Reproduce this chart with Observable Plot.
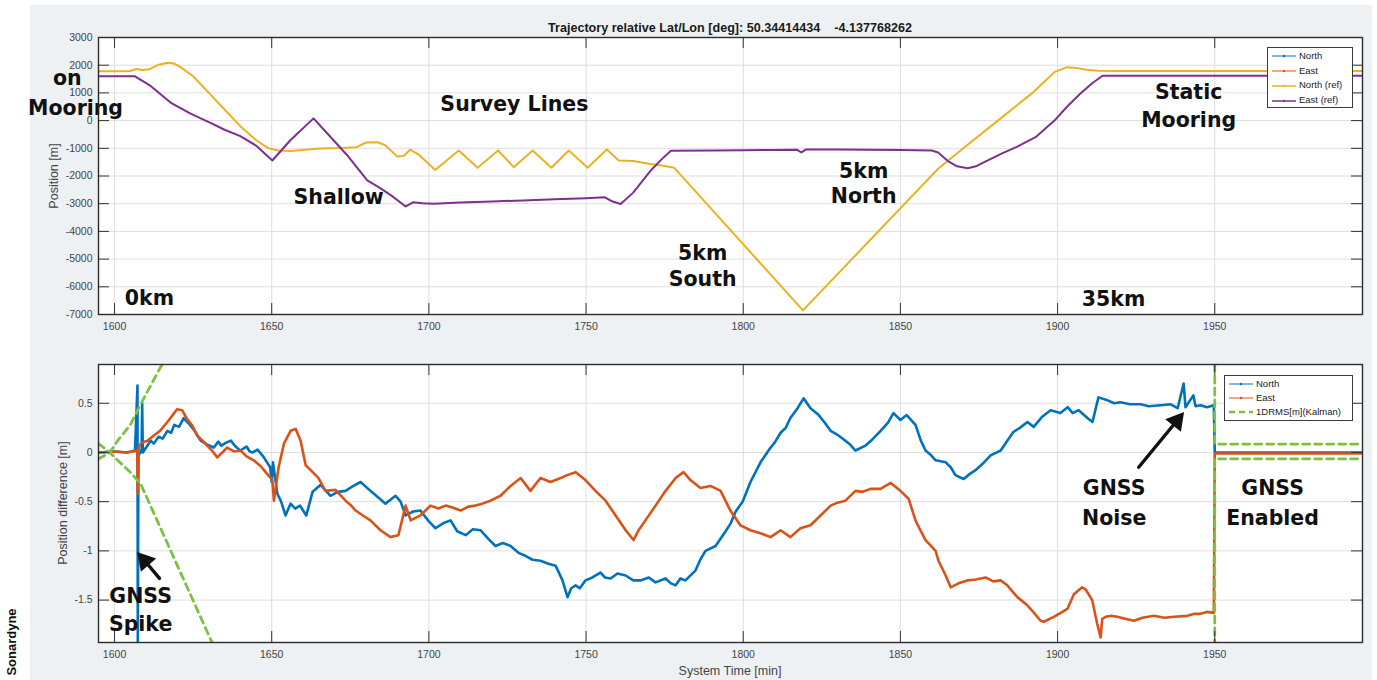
<!DOCTYPE html>
<html><head><meta charset="utf-8">
<script src="https://cdn.jsdelivr.net/npm/d3@7"></script>
<script src="https://cdn.jsdelivr.net/npm/@observablehq/plot@0.6"></script>
<style>
body{margin:0;background:#fff;}
#fig{position:relative;width:1377px;height:680px;overflow:hidden;background:#fff;font-family:"Liberation Sans",Arial,sans-serif;}
#bg{position:absolute;left:30px;top:5px;width:1342px;height:675px;background:#eef1f4;}
.abs{position:absolute;}
.rot{position:absolute;transform:translate(-50%,-50%) rotate(-90deg);white-space:nowrap;}
.legend{position:absolute;background:#fff;border:1px solid #3a3a3a;font-size:9.5px;color:#222;}
.legend .row{position:absolute;left:3px;height:14px;line-height:14px;white-space:nowrap;}
.legend svg{vertical-align:middle;margin-right:2px;}
</style>
</head><body>
<div id="fig"><div id="bg"></div></div>
<script>
// ---------- data ----------
const xTicks = [1600,1650,1700,1750,1800,1850,1900,1950];
const upperYTicks = [-7000,-6000,-5000,-4000,-3000,-2000,-1000,0,1000,2000,3000];
const lowerYTicks = [-1.5,-1,-0.5,0,0.5];

// upper panel: trajectory [time(min), position(m)]
const northRef = [[1594.9,1780],[1600,1780],[1605,1790],[1607,1860],[1609,1830],[1611,1850],[1614,2020],[1617,2090],[1619,2060],[1621,1930],[1625,1600],[1630,1000],[1635,400],[1640,-200],[1645,-700],[1649,-1000],[1652,-1080],[1656,-1100],[1660,-1060],[1664,-1020],[1668,-1000],[1672,-990],[1677,-960],[1680,-790],[1683.7,-780],[1686,-880],[1690,-1300],[1692,-1280],[1694,-1050],[1697,-1250],[1702,-1780],[1709.5,-1080],[1715.5,-1700],[1722,-1080],[1727,-1680],[1733,-1080],[1739,-1700],[1744.5,-1080],[1750.5,-1700],[1756.6,-1040],[1760.4,-1440],[1765,-1460],[1770,-1560],[1775,-1640],[1778,-1700],[1819,-6850],[1862,-1740],[1870,-1000],[1881,0],[1892,1000],[1899,1750],[1903,1930],[1906,1900],[1909,1840],[1913,1800],[1920,1790],[1997,1790]];
const eastRef = [[1594.9,1600],[1606.5,1600],[1611.5,1250],[1617.8,650],[1624.2,250],[1630.5,-80],[1635,-330],[1640,-560],[1645,-900],[1650.2,-1440],[1656,-700],[1663.3,80],[1668,-500],[1674,-1250],[1680.4,-2160],[1684,-2400],[1688,-2700],[1692.6,-3100],[1695,-2950],[1698,-2980],[1701.5,-3000],[1710,-2960],[1720,-2920],[1730,-2880],[1740,-2840],[1750,-2800],[1756,-2770],[1758,-2900],[1761,-3010],[1765,-2600],[1770.6,-1800],[1774,-1400],[1777,-1090],[1790,-1080],[1800,-1070],[1810,-1060],[1817,-1050],[1818.5,-1150],[1820,-1040],[1830,-1040],[1840,-1050],[1850,-1060],[1860,-1080],[1862,-1150],[1865,-1450],[1868,-1650],[1871.4,-1720],[1874,-1650],[1877,-1480],[1882,-1200],[1887,-950],[1893,-600],[1899,0],[1903,500],[1907,950],[1911,1350],[1914.3,1620],[1920,1620],[1997,1620]];

// lower panel: position difference [time(min), m]
const northDiff = [[1594.9,0],[1600,0.01],[1604,0],[1606.5,0.02],[1607.3,0.68],[1607.4,-2.0],[1607.6,-0.03],[1608.6,0.02],[1608.8,0.5],[1609,0],[1611.5,0.12],[1612.5,0.09],[1614,0.16],[1615.3,0.14],[1616.8,0.22],[1618,0.2],[1619,0.28],[1620.5,0.26],[1622,0.35],[1624,0.28],[1625.5,0.22],[1627.4,0.12],[1629.5,0.08],[1631.6,0.05],[1633,0.11],[1634,0.07],[1635.5,0.1],[1637,0.12],[1638.5,0.06],[1640,0.02],[1642,0.06],[1643,0.01],[1644,0],[1645.5,0.03],[1647.5,-0.05],[1649.5,-0.15],[1650,-0.3],[1650.4,-0.1],[1651.8,-0.42],[1653,-0.5],[1654.4,-0.64],[1656,-0.52],[1657.5,-0.57],[1659,-0.54],[1661,-0.64],[1663,-0.4],[1665.5,-0.33],[1667,-0.38],[1668.7,-0.44],[1671,-0.4],[1673.5,-0.39],[1676,-0.34],[1678.3,-0.3],[1681.4,-0.39],[1684,-0.46],[1686.2,-0.52],[1689.4,-0.44],[1691,-0.5],[1692.6,-0.64],[1695,-0.6],[1697.3,-0.59],[1700,-0.7],[1702.1,-0.77],[1704.5,-0.72],[1706.9,-0.69],[1709,-0.8],[1711.7,-0.84],[1714,-0.78],[1716.4,-0.79],[1719,-0.88],[1721.2,-0.95],[1723.5,-0.92],[1726,-0.95],[1728.5,-1.02],[1730.7,-1.05],[1733,-1.09],[1735.5,-1.1],[1738,-1.13],[1740.3,-1.15],[1742.5,-1.3],[1744.1,-1.47],[1745.3,-1.38],[1746.7,-1.35],[1748,-1.38],[1749.8,-1.3],[1752,-1.27],[1754.6,-1.22],[1756,-1.27],[1757.8,-1.28],[1760,-1.23],[1762.6,-1.25],[1765,-1.3],[1767.3,-1.3],[1770,-1.27],[1772.1,-1.32],[1775.3,-1.28],[1777,-1.33],[1778.5,-1.35],[1780,-1.28],[1781.6,-1.3],[1784.8,-1.2],[1786.5,-1.08],[1788,-1.0],[1791.2,-0.95],[1794.4,-0.8],[1796,-0.72],[1797.6,-0.6],[1799.8,-0.5],[1802.3,-0.3],[1805.5,-0.1],[1808.7,0.05],[1810,0.1],[1811.9,0.2],[1813.5,0.25],[1815,0.35],[1817.3,0.45],[1819.2,0.55],[1821.4,0.45],[1824,0.38],[1826,0.3],[1827.8,0.22],[1830,0.18],[1832.5,0.12],[1834,0.08],[1835.7,0.02],[1838.9,0.07],[1841,0.13],[1843.7,0.22],[1846,0.3],[1847.8,0.4],[1850,0.33],[1852,0.38],[1854.8,0.28],[1856.5,0.12],[1858,0.02],[1859.5,-0.02],[1861.2,-0.08],[1864.4,-0.1],[1866,-0.15],[1867.5,-0.23],[1870.1,-0.27],[1872,-0.22],[1873.9,-0.18],[1876,-0.12],[1878.7,-0.03],[1881.9,0.02],[1884,0.12],[1886,0.21],[1888,0.25],[1890.4,0.31],[1892.4,0.26],[1895,0.36],[1897.8,0.43],[1900.9,0.4],[1903.2,0.46],[1904.8,0.4],[1906.7,0.43],[1909.5,0.35],[1911.1,0.31],[1913,0.56],[1915.9,0.53],[1918,0.5],[1920,0.51],[1923,0.49],[1926.4,0.49],[1929,0.47],[1932.8,0.48],[1936,0.49],[1938.2,0.45],[1940.1,0.7],[1940.7,0.46],[1943.2,0.58],[1943.9,0.47],[1945.5,0.48],[1947.5,0.46],[1949.7,0.48],[1950,0],[1997,0]];
const eastDiff = [[1594.9,0],[1600,0.01],[1604,0],[1607.2,0.02],[1607.4,-0.42],[1607.7,0.06],[1608.6,0.1],[1610.5,0.12],[1612.4,0.17],[1614.5,0.22],[1616.8,0.31],[1618.5,0.38],[1619.9,0.44],[1621.5,0.43],[1623.1,0.34],[1624.8,0.27],[1626.3,0.17],[1628,0.12],[1629.5,0.07],[1631,0.02],[1632.7,-0.05],[1634.3,0.0],[1635.8,0.05],[1638,0.01],[1640.1,0.02],[1642,-0.04],[1644.3,-0.08],[1646.5,-0.14],[1648.6,-0.22],[1650.2,-0.28],[1650.7,-0.49],[1652.2,-0.15],[1653.9,0.09],[1656,0.22],[1657.6,0.24],[1659.2,0.12],[1660.8,-0.13],[1662.4,-0.18],[1664.9,-0.26],[1667.1,-0.39],[1670.3,-0.38],[1673.5,-0.49],[1675,-0.53],[1676.7,-0.59],[1679,-0.64],[1681.4,-0.69],[1684.6,-0.79],[1687.8,-0.86],[1690.3,-0.84],[1692.6,-0.54],[1694.2,-0.69],[1697.3,-0.64],[1700.5,-0.54],[1703,-0.57],[1705.3,-0.54],[1707.5,-0.56],[1710.1,-0.59],[1712.5,-0.55],[1714.8,-0.54],[1717,-0.52],[1719.6,-0.49],[1722.8,-0.44],[1726,-0.34],[1729.2,-0.26],[1732.3,-0.39],[1735.5,-0.26],[1738.7,-0.3],[1741.9,-0.26],[1744,-0.23],[1746.7,-0.2],[1749.8,-0.28],[1753,-0.39],[1756.2,-0.49],[1759.4,-0.64],[1762.6,-0.79],[1765.1,-0.89],[1766.7,-0.79],[1768.9,-0.69],[1772.1,-0.54],[1775.3,-0.39],[1778.5,-0.26],[1781,-0.2],[1783.2,-0.28],[1786.4,-0.36],[1789.6,-0.34],[1792.8,-0.39],[1795.9,-0.59],[1799.1,-0.74],[1802.3,-0.79],[1805.5,-0.82],[1808.7,-0.86],[1811.9,-0.79],[1815,-0.86],[1818.2,-0.77],[1821.4,-0.74],[1824.6,-0.64],[1827.8,-0.54],[1830,-0.51],[1832.5,-0.49],[1835.7,-0.39],[1838,-0.4],[1840.5,-0.37],[1843.7,-0.37],[1846.9,-0.31],[1850,-0.39],[1852.6,-0.47],[1854.8,-0.69],[1856.5,-0.8],[1858,-0.89],[1861.2,-1.0],[1862.1,-1.1],[1864.4,-1.25],[1866,-1.37],[1868.5,-1.33],[1871.3,-1.3],[1874,-1.29],[1877.1,-1.27],[1879.5,-1.31],[1881.9,-1.3],[1884,-1.35],[1887.2,-1.47],[1890.3,-1.55],[1892.5,-1.63],[1894.6,-1.71],[1895.6,-1.72],[1898.8,-1.67],[1901,-1.63],[1903.1,-1.59],[1905.2,-1.44],[1907.8,-1.37],[1908.9,-1.39],[1911,-1.5],[1912.6,-1.74],[1913.7,-1.88],[1914.2,-1.69],[1915.3,-1.67],[1917,-1.66],[1919,-1.67],[1921.5,-1.69],[1924.3,-1.71],[1927,-1.68],[1930.6,-1.66],[1934,-1.68],[1937,-1.67],[1941.3,-1.66],[1943.5,-1.64],[1945.5,-1.64],[1947.5,-1.62],[1949.7,-1.63],[1950,-0.01],[1997,-0.01]];
const drmsPlus = [[1594.9,-0.065],[1598.5,0.0],[1601,0.12],[1605,0.28],[1608.3,0.49],[1615.2,0.9],[1620,1.3],[1950,3],[1950,0.085],[1997,0.085]];
const drmsMinus = [[1594.9,0.09],[1598.5,0.0],[1601,-0.08],[1605,-0.2],[1608.3,-0.32],[1612,-0.58],[1620,-1.15],[1631,-1.93],[1640,-2.6],[1950,-3],[1950,-0.065],[1997,-0.065]];

// annotations (data-space anchors)
const upperNotes = [
  {t:1585.0,v:1520,text:"on"},{t:1587.6,v:440,text:"Mooring"},
  {t:1727.2,v:580,text:"Survey Lines"},{t:1671.3,v:-2780,text:"Shallow"},
  {t:1838.3,v:-1840,text:"5km"},{t:1838.3,v:-2740,text:"North"},
  {t:1787.1,v:-4800,text:"5km"},{t:1787.1,v:-5740,text:"South"},
  {t:1941.7,v:1015,text:"Static"},{t:1941.7,v:5,text:"Mooring"},
  {t:1611.1,v:-6420,text:"0km"},{t:1917.8,v:-6460,text:"35km"}
];
const lowerNotes = [
  {t:1918,v:-0.37,text:"GNSS"},{t:1918,v:-0.67,text:"Noise"},
  {t:1968.4,v:-0.37,text:"GNSS"},{t:1968.4,v:-0.67,text:"Enabled"},
  {t:1608.3,v:-1.46,text:"GNSS"},{t:1608.3,v:-1.75,text:"Spike"}
];
const spikeArrow = [{t1:1614.3,v1:-1.28,t2:1609.6,v2:-1.1}];
const noiseArrow = [{t1:1925.8,v1:-0.15,t2:1937.9,v2:0.32}];

// ---------- drawing ----------
const W = 1377, ML = 98, MR = 15, TICK = 11;
const COL = {north:"#0072BD", east:"#D95319", northRef:"#EDB120", eastRef:"#7E2F8E", drms:"#7cc242"};
const fmt = d => String(d);
const noteFont = {fontFamily:"DejaVu Sans, Verdana, sans-serif", fontWeight:"bold", fontSize:20.5, fill:"#111"};

function panel({top, height, mt, mb, yDomain, yTicks, marks}) {
  const innerH = height - mt - mb, innerW = W - ML - MR;
  const p = Plot.plot({
    width: W, height, marginLeft: ML, marginRight: MR, marginTop: mt, marginBottom: mb,
    style: {background:"transparent", fontFamily:"Liberation Sans, Arial, sans-serif", fontSize:"10.5px", color:"#444", overflow:"visible"},
    x: {domain:[1594.9,1997]},
    y: {domain:yDomain},
    marks: [
      Plot.frame({fill:"white", stroke:"none"}),
      Plot.gridX(xTicks, {stroke:"#dedede", strokeOpacity:1}),
      Plot.gridY(yTicks, {stroke:"#dedede", strokeOpacity:1}),
      ...marks,
      Plot.tickX(xTicks, {x:d=>d, insetTop:innerH-TICK, stroke:"#333"}),
      Plot.tickX(xTicks, {x:d=>d, insetBottom:innerH-TICK, stroke:"#333"}),
      Plot.tickY(yTicks, {y:d=>d, insetRight:innerW-TICK, stroke:"#333"}),
      Plot.tickY(yTicks, {y:d=>d, insetLeft:innerW-TICK, stroke:"#333"}),
      Plot.axisX(xTicks, {tickSize:0, tickPadding:8, tickFormat:fmt, label:null, fill:"#444"}),
      Plot.axisY(yTicks, {tickSize:0, tickPadding:6, tickFormat:fmt, label:null, fill:"#444"}),
      Plot.frame({stroke:"#2b2b2b", strokeWidth:1.4})
    ]
  });
  p.style.position = "absolute";
  p.style.left = "0px";
  p.style.top = top + "px";
  document.getElementById("fig").appendChild(p);
}

const line = (data, stroke, extra={}) => Plot.line(data, {x:d=>d[0], y:d=>d[1], stroke, strokeWidth:2, clip:true, strokeLinejoin:"round", ...extra});
const arrowMarks = (data, dx, dy, rotate) => [
  Plot.arrow(data, {x1:"t1", y1:"v1", x2:"t2", y2:"v2", stroke:"#111", strokeWidth:3.4, headLength:0}),
  Plot.dot(data, {x:"t2", y:"v2", symbol:"triangle", r:7.5, rotate, fill:"#111", stroke:"none", dx, dy})
];

panel({top:0, height:345, mt:37, mb:31, yDomain:[-7000,3000], yTicks:upperYTicks, marks:[
  line(northRef, COL.northRef),
  line(eastRef, COL.eastRef),
  Plot.text(upperNotes, {x:"t", y:"v", text:"text", ...noteFont})
]});

panel({top:345, height:335, mt:19, mb:38, yDomain:[-1.931,0.894], yTicks:lowerYTicks, marks:[
  line(northDiff, COL.north, {strokeWidth:2.6}),
  line(eastDiff, COL.east, {strokeWidth:2.6}),
  line(drmsPlus, COL.drms, {strokeWidth:2.8, strokeDasharray:"7,5"}),
  line(drmsMinus, COL.drms, {strokeWidth:2.8, strokeDasharray:"7,5"}),
  ...arrowMarks(spikeArrow, 0, 0, -41),
  ...arrowMarks(noiseArrow, 0, 0, 39),
  Plot.text(lowerNotes, {x:"t", y:"v", text:"text", ...noteFont})
]});

// ---------- texts & legends ----------
const fig = document.getElementById("fig");
function add(html){ fig.insertAdjacentHTML("beforeend", html); }
add(`<div class="abs" style="left:330px;width:800px;top:20px;text-align:center;font-weight:bold;font-size:12.6px;line-height:16px;color:#1a1a1a;white-space:pre">Trajectory relative Lat/Lon [deg]: 50.34414434    -4.137768262</div>`);
add(`<div class="rot" style="left:54px;top:176px;font-size:12.5px;color:#444">Position [m]</div>`);
add(`<div class="rot" style="left:63px;top:503px;font-size:12.5px;color:#444">Position difference [m]</div>`);
add(`<div class="abs" style="left:530px;width:400px;top:664px;text-align:center;font-size:12.5px;line-height:15px;color:#444">System Time [min]</div>`);
add(`<div class="rot" style="left:11px;top:642px;font-size:13px;font-weight:bold;color:#111">Sonardyne</div>`);

function legend(left, top, w, h, items) {
  let rows = items.map((it, i) => `<div class="row" style="top:${1 + i*it.gap}px"><svg width="26" height="8"><line x1="1" y1="4" x2="25" y2="4" stroke="${it.color}" stroke-width="${it.w}" ${it.dash ? `stroke-dasharray="${it.dash}"` : ""}/>${it.dash ? "" : `<circle cx="13" cy="4" r="1.2" fill="${it.color}"/>`}</svg>${it.label}</div>`).join("");
  add(`<div class="legend" style="left:${left}px;top:${top}px;width:${w}px;height:${h}px">${rows}</div>`);
}
legend(1267, 47, 84, 59, [
  {label:"North", color:COL.north, w:1, gap:14.7},
  {label:"East", color:COL.east, w:1, gap:14.7},
  {label:"North (ref)", color:COL.northRef, w:1.5, gap:14.7},
  {label:"East (ref)", color:COL.eastRef, w:1.5, gap:14.7}
]);
legend(1224, 375, 127, 44, [
  {label:"North", color:COL.north, w:1, gap:14},
  {label:"East", color:COL.east, w:1, gap:14},
  {label:"1DRMS[m](Kalman)", color:COL.drms, w:2.5, dash:"6,4", gap:14}
]);
</script>
</body></html>
